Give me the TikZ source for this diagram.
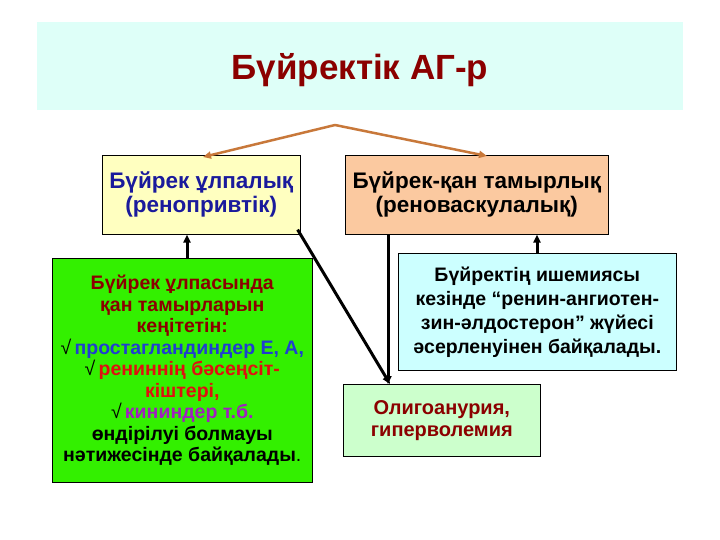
\documentclass[tikz,border=0pt]{standalone}
\usepackage{fontspec}
\setmainfont{Liberation Sans}
\usetikzlibrary{arrows.meta}
\definecolor{dred}{HTML}{8B0000}
\definecolor{dblue}{HTML}{1A1A9C}
\definecolor{mblue}{HTML}{1F3FD0}
\definecolor{mred}{HTML}{E01010}
\definecolor{mpurp}{HTML}{A020C0}
\definecolor{orng}{HTML}{C8783A}
\begin{document}
\begin{tikzpicture}[x=1pt,y=-1pt,
  box/.style={draw=black,line width=0.6pt,anchor=north west,inner sep=0pt,align=center,font=\bfseries},
  blk/.style={-{Triangle[length=8pt,width=7pt]},line width=3pt},
  org/.style={-{Triangle[length=8pt,width=7pt]},line width=2.5pt,draw=orng}]
\useasboundingbox (0,0) rectangle (720,540);
\fill[white] (0,0) rectangle (720,540);
\fill[color={rgb,255:red,222;green,255;blue,248}] (37,22) rectangle (683,110);
\node[font=\bfseries\fontsize{35}{40}\selectfont,text=dred] (t) at (360,70) {Бүйректік АГ-р};
\node[box,fill={rgb,255:red,255;green,255;blue,192},minimum width=198,minimum height=79,text=dblue,font=\bfseries\fontsize{22.5}{24}\selectfont] (b1) at (102,155) {Бүйрек ұлпалық\\(ренопривтік)};
\node[box,fill={rgb,255:red,251;green,201;blue,160},minimum width=263,minimum height=79,text=black,font=\bfseries\fontsize{22.5}{24}\selectfont] (b2) at (345,155) {Бүйрек-қан тамырлық\\(реноваскулалық)};
\node[box,fill={rgb,255:red,51;green,240;blue,0},minimum width=260,minimum height=224,font=\bfseries\fontsize{19.5}{21.5}\selectfont] (g) at (52,258) {\textcolor{dred}{Бүйрек ұлпасында}\\\textcolor{dred}{қан тамырларын}\\\textcolor{dred}{кеңітетін:}\\{\mdseries√}\,\textcolor{mblue}{простагландиндер Е, А,}\\{\mdseries√}\,\textcolor{mred}{рениннің бәсеңсіт-}\\\textcolor{mred}{кіштері,}\\{\mdseries√}\,\textcolor{mpurp}{кининдер т.б.}\\өндірілуі болмауы\\нәтижесінде байқалады{\mdseries.}};
\node[box,fill={rgb,255:red,204;green,255;blue,255},minimum width=278,minimum height=117,font=\bfseries\fontsize{19.5}{24}\selectfont] (c) at (398,253) {Бүйректің ишемиясы\\кезінде “ренин-ангиотен-\\зин-әлдостерон” жүйесі\\әсерленуінен байқалады.};
\node[box,fill={rgb,255:red,204;green,255;blue,204},minimum width=197,minimum height=72,text=dred,font=\bfseries\fontsize{20}{22}\selectfont] (o) at (343,384) {Олигоанурия,\\гиперволемия};
\coordinate (apex) at (335,125);
\draw[org] (apex) -- (203,157);
\draw[org] (apex) -- (487,156);
\draw[blk] (g.north west) ++(135,0) coordinate (g1) -- (g1 |- b1.south);
\draw[blk] (c.north west) ++(139,0) coordinate (c1) -- (c1 |- b2.south);
\draw[blk] (b1.south east) ++(-3,-5) coordinate (d1) -- ([xshift=47]o.north west);
\draw[blk] (b2.south west) ++(43,0) coordinate (d2) -- (d2 |- o.north);
\end{tikzpicture}
\end{document}
